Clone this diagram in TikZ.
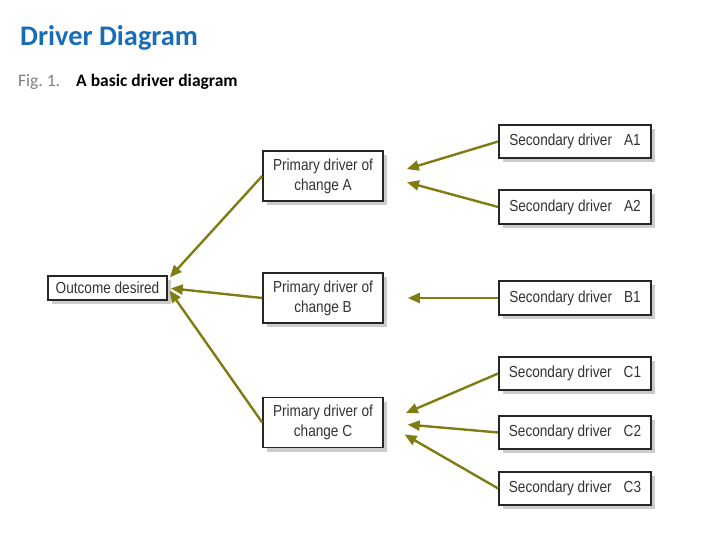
\documentclass[tikz,border=0pt]{standalone}
\usepackage{fontspec}
\setmainfont{Liberation Sans}
\newfontfamily\titlefont{Carlito}
\newfontfamily\boxfont[FakeStretch=0.85]{Liberation Sans}
\usetikzlibrary{arrows.meta,shadows}
\definecolor{titleblue}{RGB}{26,109,181}
\definecolor{arrowolive}{RGB}{128,124,20}

\begin{document}
\begin{tikzpicture}
[
	x=1pt,
	y=-1pt,
	box/.style={draw=black!85,line width=1.6pt,fill=white,inner sep=0pt,align=center,
		font=\boxfont\fontsize{16}{20}\selectfont,text=black!80,
		drop shadow={shadow xshift=4pt,shadow yshift=-4pt,fill=black!20,opacity=1}},
	outcome/.style={box,minimum width=119pt,minimum height=24pt},
	primary/.style={box,minimum width=120pt,minimum height=50pt},
	secondary/.style={box,minimum width=152pt,minimum height=33.5pt},
	link/.style={-{Triangle[length=12pt,width=10pt]},line width=2.4pt,draw=arrowolive,shorten >=24pt}
]

	\useasboundingbox (0,0) rectangle (720,540);

	% heading
	\node[anchor=base west,inner sep=0pt,text=titleblue,font=\titlefont\bfseries\fontsize{28.4}{32}\selectfont] (title) at (20,46) {Driver Diagram};
	\node[anchor=base west,inner sep=0pt,text=black!50,font=\titlefont\fontsize{17.5}{20}\selectfont] (fig) at (18,87) {Fig.~1.};
	\node[anchor=base west,inner sep=0pt,font=\titlefont\bfseries\fontsize{17.5}{20}\selectfont] (caption) at (76,87) {A basic driver diagram};

	% boxes
	\node[outcome] (oc) at (107.5,288) {Outcome desired};
	\foreach \name/\y in {A/176,B/298,C/422.5} {
		\node[primary] (p\name) at (323,\y) {Primary driver of\\change \name};
	}
	\foreach \name/\y in {A1/141.5,A2/207,B1/298,C1/373.5,C2/432.5,C3/488.5} {
		\node[secondary] (s\name) at (575,\y) {Secondary driver\hspace{12pt}\name};
	}

	% arrows
	\foreach \s/\p in {A1/A,A2/A,B1/B,C1/C,C2/C,C3/C} {
		\draw[link] (s\s.west) -- (p\p.east);
	}
	\draw[link,shorten >=3pt] (pA.west) -- (oc.8);
	\draw[link,shorten >=3pt] (pB.west) -- (oc.east);
	\draw[link,shorten >=3pt] (pC.west) -- (oc.east);

\end{tikzpicture}
\end{document}
